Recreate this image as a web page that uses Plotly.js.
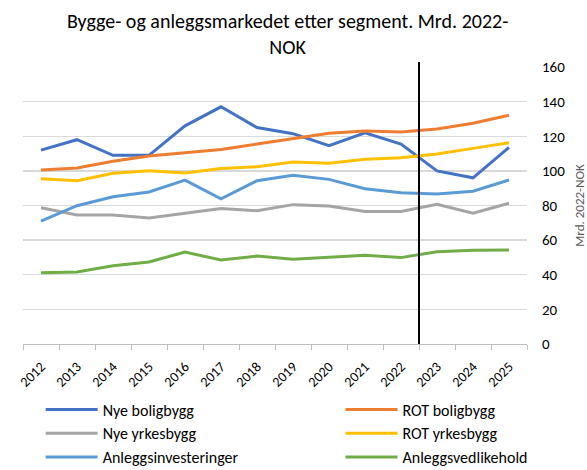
<!DOCTYPE html>
<html><head><meta charset="utf-8">
<script src="https://cdn.plot.ly/plotly-3.0.1.min.js"></script>
<style>body{margin:0;background:#fff}</style>
</head><body><div id="chart" style="width:587px;height:470px"></div>
<script>
const years = ['2012','2013','2014','2015','2016','2017','2018','2019','2020','2021','2022','2023','2024','2025'];
const nyeBoligbygg = [112,118,109,109,126,137,125,121.5,114.5,122,115.5,100,96,113.6];
const rotBoligbygg = [100.5,101.7,105.5,108.6,110.5,112.4,115.5,118.8,121.7,123,122.5,124.2,127.5,132.1];
const nyeYrkesbygg = [78.7,74.5,74.5,72.8,75.5,78.2,77,80.5,79.7,76.6,76.6,80.7,75.5,81.3];
const rotYrkesbygg = [95.5,94.3,98.6,100.1,98.8,101.3,102.4,105.1,104.4,106.7,107.6,109.7,113,116.3];
const anleggsinvesteringer = [71,79.9,85.1,87.8,94.7,83.9,94.3,97.4,95.1,89.7,87.4,86.6,88.2,94.7];
const anleggsvedlikehold = [41.2,41.6,45.2,47.4,53.1,48.5,50.8,48.9,50.1,51.2,49.9,53.3,54.1,54.3];
const seriesNames = ['Nye boligbygg','ROT boligbygg','Nye yrkesbygg','ROT yrkesbygg','Anleggsinvesteringer','Anleggsvedlikehold'];
const seriesValues = [nyeBoligbygg, rotBoligbygg, nyeYrkesbygg, rotYrkesbygg, anleggsinvesteringer, anleggsvedlikehold];
const seriesColors = ['#4472C4','#ED7D31','#A5A5A5','#FFC000','#5B9BD5','#70AD47'];
const forecastStartYear = '2023';
const yTicks = [0,20,40,60,80,100,120,140,160];

const FONT = 'Carlito, Lato, "Open Sans", sans-serif';

const traces = seriesNames.map((name, i) => ({
  type: 'scatter', mode: 'lines', name: name,
  x: years, y: seriesValues[i],
  line: {color: seriesColors[i], width: 3},
  legend: i % 2 === 0 ? 'legend' : 'legend2',
  legendgroup: 'g' + i
}));

const legendCommon = {
  orientation: 'v', xanchor: 'left',
  y: -0.175, yanchor: 'top',
  itemwidth: 52, tracegroupgap: 0,
  font: {size: 16, family: FONT, color: '#000'},
  bgcolor: 'rgba(0,0,0,0)'
};

const layout = {
  width: 587, height: 470,
  margin: {l: 23, r: 60, t: 67, b: 126, autoexpand: false},
  paper_bgcolor: '#fff', plot_bgcolor: '#fff',
  font: {family: FONT, color: '#000'},
  title: {
    text: 'Bygge- og anleggsmarkedet etter segment. Mrd. 2022-<br>NOK',
    x: 0.49, xref: 'container', xanchor: 'center',
    y: 0.94, yref: 'container', yanchor: 'middle',
    font: {size: 20, family: FONT, color: '#000'}
  },
  xaxis: {
    type: 'category', range: [-0.5, years.length - 0.5],
    tickson: 'boundaries', ticks: 'outside', ticklen: 5, tickcolor: '#bfbfbf',
    showline: true, linecolor: '#bfbfbf', linewidth: 1,
    showgrid: false, tickangle: -45, ticklabelstandoff: 8,
    tickfont: {size: 14, family: FONT, color: '#000'}
  },
  yaxis: {
    side: 'right', range: [0, 160], tickvals: yTicks,
    showgrid: true, gridcolor: '#d9d9d9', gridwidth: 1.3,
    zeroline: false, showline: false, ticks: '',
    ticklabelstandoff: 14,
    tickfont: {size: 15, family: FONT, color: '#000'},
    title: {text: 'Mrd. 2022-NOK', font: {size: 13, family: FONT, color: '#595959'}, standoff: 12}
  },
  showlegend: true,
  legend: Object.assign({}, legendCommon, {x: 0.035}),
  legend2: Object.assign({}, legendCommon, {x: 0.63}),
  shapes: [{
    type: 'line', xref: 'x', yref: 'paper',
    x0: years.indexOf(forecastStartYear) - 0.5, x1: years.indexOf(forecastStartYear) - 0.5,
    y0: 0, y1: 1.018,
    line: {color: '#000', width: 2}
  }]
};

Plotly.newPlot('chart', traces, layout, {displayModeBar: false, staticPlot: true});
</script>
</body></html>
